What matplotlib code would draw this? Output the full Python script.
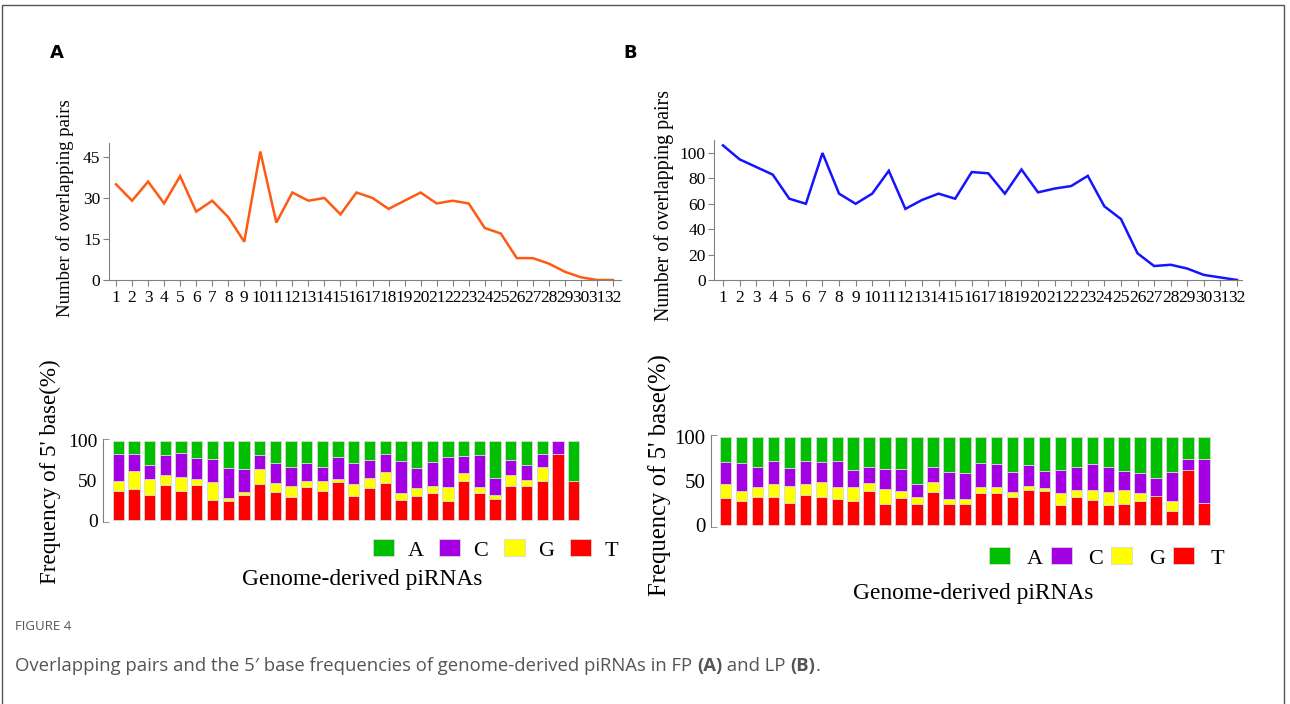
import matplotlib
matplotlib.use("Agg")
import matplotlib.pyplot as plt
from matplotlib.patches import Rectangle, Patch

plt.rcParams['font.family'] = ['Liberation Serif', 'DejaVu Serif']

W, H = 1290, 704

# ---- data ----
positions = list(range(1, 33))
fp_pairs = [35, 29, 36, 28, 38, 25, 29, 23, 14, 47, 21, 32, 29, 30, 24, 32,
            30, 26, 29, 32, 28, 29, 28, 19, 17, 8, 8, 6, 3, 1, 0, 0]
lp_pairs = [106, 95, 89, 83, 64, 60, 100, 68, 60, 68, 86, 56, 63, 68, 64, 85,
            84, 68, 87, 69, 72, 74, 82, 58, 48, 21, 11, 12, 9, 4, 2, 0]

bases = ['A', 'C', 'G', 'T']
base_colors = {'A': '#00bf00', 'C': '#a400e4', 'G': '#ffff00', 'T': '#ff0000'}

fp_T = [37.0, 39.5, 31.5, 44.0, 36.6, 43.7, 25.2, 23.5, 31.9, 45.4, 35.3, 29.4, 41.2, 36.6, 47.5,
        30.7, 39.9, 46.2, 25.2, 30.7, 33.6, 24.0, 49.6, 33.6, 26.1, 43.3, 43.3, 49.6, 83.2, 49.6]
fp_G = [12.6, 21.8, 19.8, 12.7, 18.0, 8.0, 22.3, 4.7, 3.8, 18.5, 11.8, 13.9, 8.4, 13.0, 4.2,
        14.3, 12.6, 14.7, 8.4, 9.2, 9.3, 17.2, 9.2, 8.0, 5.8, 13.0, 6.7, 16.8, 0.0, 0.0]
fp_C = [33.6, 21.9, 18.0, 25.7, 30.3, 26.9, 29.8, 36.9, 28.6, 18.0, 24.3, 23.9, 22.7, 17.2, 27.7,
        26.8, 22.7, 22.3, 40.3, 25.6, 30.2, 38.2, 22.3, 40.3, 21.0, 18.9, 19.3, 17.2, 16.8, 0.0]
fp_A = [16.8, 16.8, 30.7, 17.6, 15.1, 21.4, 22.7, 34.9, 35.7, 18.1, 28.6, 32.8, 27.7, 33.2, 20.6,
        28.2, 24.8, 16.8, 26.1, 34.5, 26.9, 20.6, 18.9, 18.1, 47.1, 24.8, 30.7, 16.4, 0.0, 50.4]

lp_T = [30.4, 27.8, 31.6, 31.9, 24.7, 33.8, 32.3, 29.7, 27.8, 38.8, 24.0, 30.8, 23.6, 38.0, 24.0, 24.3,
        36.1, 36.1, 32.3, 39.9, 38.4, 22.4, 31.9, 28.1, 22.4, 23.6, 27.0, 33.1, 16.3, 62.4, 24.7]
lp_G = [16.4, 10.6, 11.4, 14.5, 19.4, 12.6, 16.4, 14.0, 15.2, 9.5, 17.4, 8.0, 8.7, 11.0, 6.0, 5.4,
        6.9, 7.6, 5.7, 4.6, 3.4, 13.7, 8.4, 11.8, 15.6, 16.3, 9.1, 0.0, 11.1, 0.0, 0.0]
lp_C = [25.1, 32.7, 22.8, 26.2, 20.9, 26.6, 23.5, 29.7, 20.1, 18.2, 22.1, 25.5, 14.5, 17.5, 30.5, 30.0,
        27.3, 25.9, 22.1, 23.6, 19.8, 27.0, 25.5, 30.1, 28.5, 22.1, 22.8, 20.9, 33.4, 12.5, 50.2]
lp_A = [28.1, 28.9, 34.2, 27.4, 35.0, 27.0, 27.8, 26.6, 36.9, 33.5, 36.5, 35.7, 53.2, 33.5, 39.5, 40.3,
        29.7, 30.4, 39.9, 31.9, 38.4, 36.9, 34.2, 30.0, 33.5, 38.0, 41.1, 46.0, 39.2, 25.1, 25.1]

fig = plt.figure(figsize=(W / 100, H / 100), dpi=100)


def place(l, t, r, b):
    return fig.add_axes([l / W, 1 - b / H, (r - l) / W, (b - t) / H])


def fx(x):
    return x / W


def fy(y):
    return 1 - y / H


GRAY = '#808080'


def line_panel(ax, y, color, yticks, ylim, xlim, ylabel_x, ylabel_y, fs):
    ax.plot(positions, y, color=color, lw=1.8, solid_joinstyle='miter')
    ax.set_xlim(*xlim)
    ax.set_ylim(*ylim)
    ax.set_xticks(positions)
    ax.set_xticklabels([str(p) for p in positions])
    ax.set_yticks(yticks)
    for s in ['top', 'right']:
        ax.spines[s].set_visible(False)
    for s in ['left', 'bottom']:
        ax.spines[s].set_color(GRAY)
    ax.tick_params(axis='both', colors=GRAY, length=4, labelcolor='black',
                   labelsize=12.5, pad=2)
    ax.tick_params(axis='x', pad=3)
    ax.set_facecolor('none')
    fig.text(fx(ylabel_x), fy(ylabel_y), 'Number of overlapping pairs',
             rotation=90, ha='center', va='center', fontsize=fs)


def bar_panel(ax, T, G, C, A, xlim, ticksize, ylabel_xy, ylabel_fs,
              xlabel_xy, leg_xy, leg_kw):
    x = list(range(1, len(T) + 1))
    bottoms = [0.0] * len(T)
    for name, vals in [('T', T), ('G', G), ('C', C), ('A', A)]:
        ax.bar(x, vals, bottom=bottoms, width=0.72, color=base_colors[name],
               edgecolor='#d8d8d8', linewidth=0.6)
        bottoms = [b + v for b, v in zip(bottoms, vals)]
    ax.set_xlim(*xlim)
    ax.set_ylim(-2, 102)
    ax.set_xticks([])
    ax.set_yticks([0, 50, 100])
    ax.set_yticks([-2, 102], minor=True)
    for s in ['top', 'right', 'bottom']:
        ax.spines[s].set_visible(False)
    ax.spines['left'].set_color(GRAY)
    ax.tick_params(axis='y', which='major', length=0, labelsize=ticksize, pad=4)
    ax.tick_params(axis='y', which='minor', direction='in', length=4, color=GRAY)
    fig.text(fx(ylabel_xy[0]), fy(ylabel_xy[1]), "Frequency of 5' base(%)",
             rotation=90, ha='center', va='center', fontsize=ylabel_fs)
    fig.text(fx(xlabel_xy[0]), fy(xlabel_xy[1]), 'Genome-derived piRNAs',
             ha='center', va='center', fontsize=16.8)
    handles = [Patch(facecolor=base_colors[b], edgecolor='#d8d8d8', linewidth=0.6) for b in bases]
    ax.legend(handles, bases, loc='center left', ncol=4, frameon=False,
              bbox_to_anchor=(fx(leg_xy[0]), fy(leg_xy[1])), bbox_transform=fig.transFigure,
              borderaxespad=0, borderpad=0, fontsize=16, handlelength=0.95,
              handleheight=0.8, **leg_kw)


# top panels
ax1 = place(108.8, 143.3, 620.7, 280)
line_panel(ax1, fp_pairs, '#ff5a14', [0, 15, 30, 45], (0, 50), (0.55, 32.48), 65, 208, 13.5)
ax2 = place(714.2, 140.3, 1242, 280)
line_panel(ax2, lp_pairs, '#1414ff', [0, 20, 40, 60, 80, 100], (0, 110), (0.47, 32.3), 664, 205, 14.3)

# bottom panels
ax3 = place(103.3, 439.1, 583, 521.6)
bar_panel(ax3, fp_T, fp_G, fp_C, fp_A, (0.045, 30.6), 14, (50, 472), 16.6,
          (362, 580), (373, 550), dict(handletextpad=0.6, columnspacing=0.7))
ax4 = place(710.7, 435.5, 1213.5, 526.8)
bar_panel(ax4, lp_T, lp_G, lp_C, lp_A, (0.06, 31.6), 15, (660, 475), 17.8,
          (973, 594), (989, 558), dict(handletextpad=0.75, columnspacing=0.35))

# panel letters
fig.text(fx(50), fy(53), 'A', fontsize=13, fontweight='bold', family='DejaVu Sans',
         va='center', ha='left')
fig.text(fx(623), fy(53), 'B', fontsize=13, fontweight='bold', family='DejaVu Sans',
         va='center', ha='left')

# frame
fig.patches.append(Rectangle((fx(2), -0.05), fx(1284) - fx(2), fy(5) + 0.05,
                             transform=fig.transFigure, fill=False,
                             edgecolor='#555555', lw=1))

# caption
fig.text(fx(15), fy(627), 'FIGURE 4', fontsize=9.5, family='Open Sans', color='#555555',
         va='center', ha='left')
parts = [("Overlapping pairs and the 5\u2032 base frequencies of genome-derived piRNAs in FP ", 'normal'),
         ("(A)", 'bold'), (" and LP ", 'normal'), ("(B)", 'bold'), (".", 'normal')]
renderer = fig.canvas.get_renderer()
xpos = fx(15)
for txt, wt in parts:
    t = fig.text(xpos, fy(666), txt, fontsize=13.3, family='Open Sans', color='#555555',
                 fontweight=wt, va='center', ha='left')
    bb = t.get_window_extent(renderer=renderer)
    xpos += bb.width / W

fig.savefig('out.png', dpi=100)
